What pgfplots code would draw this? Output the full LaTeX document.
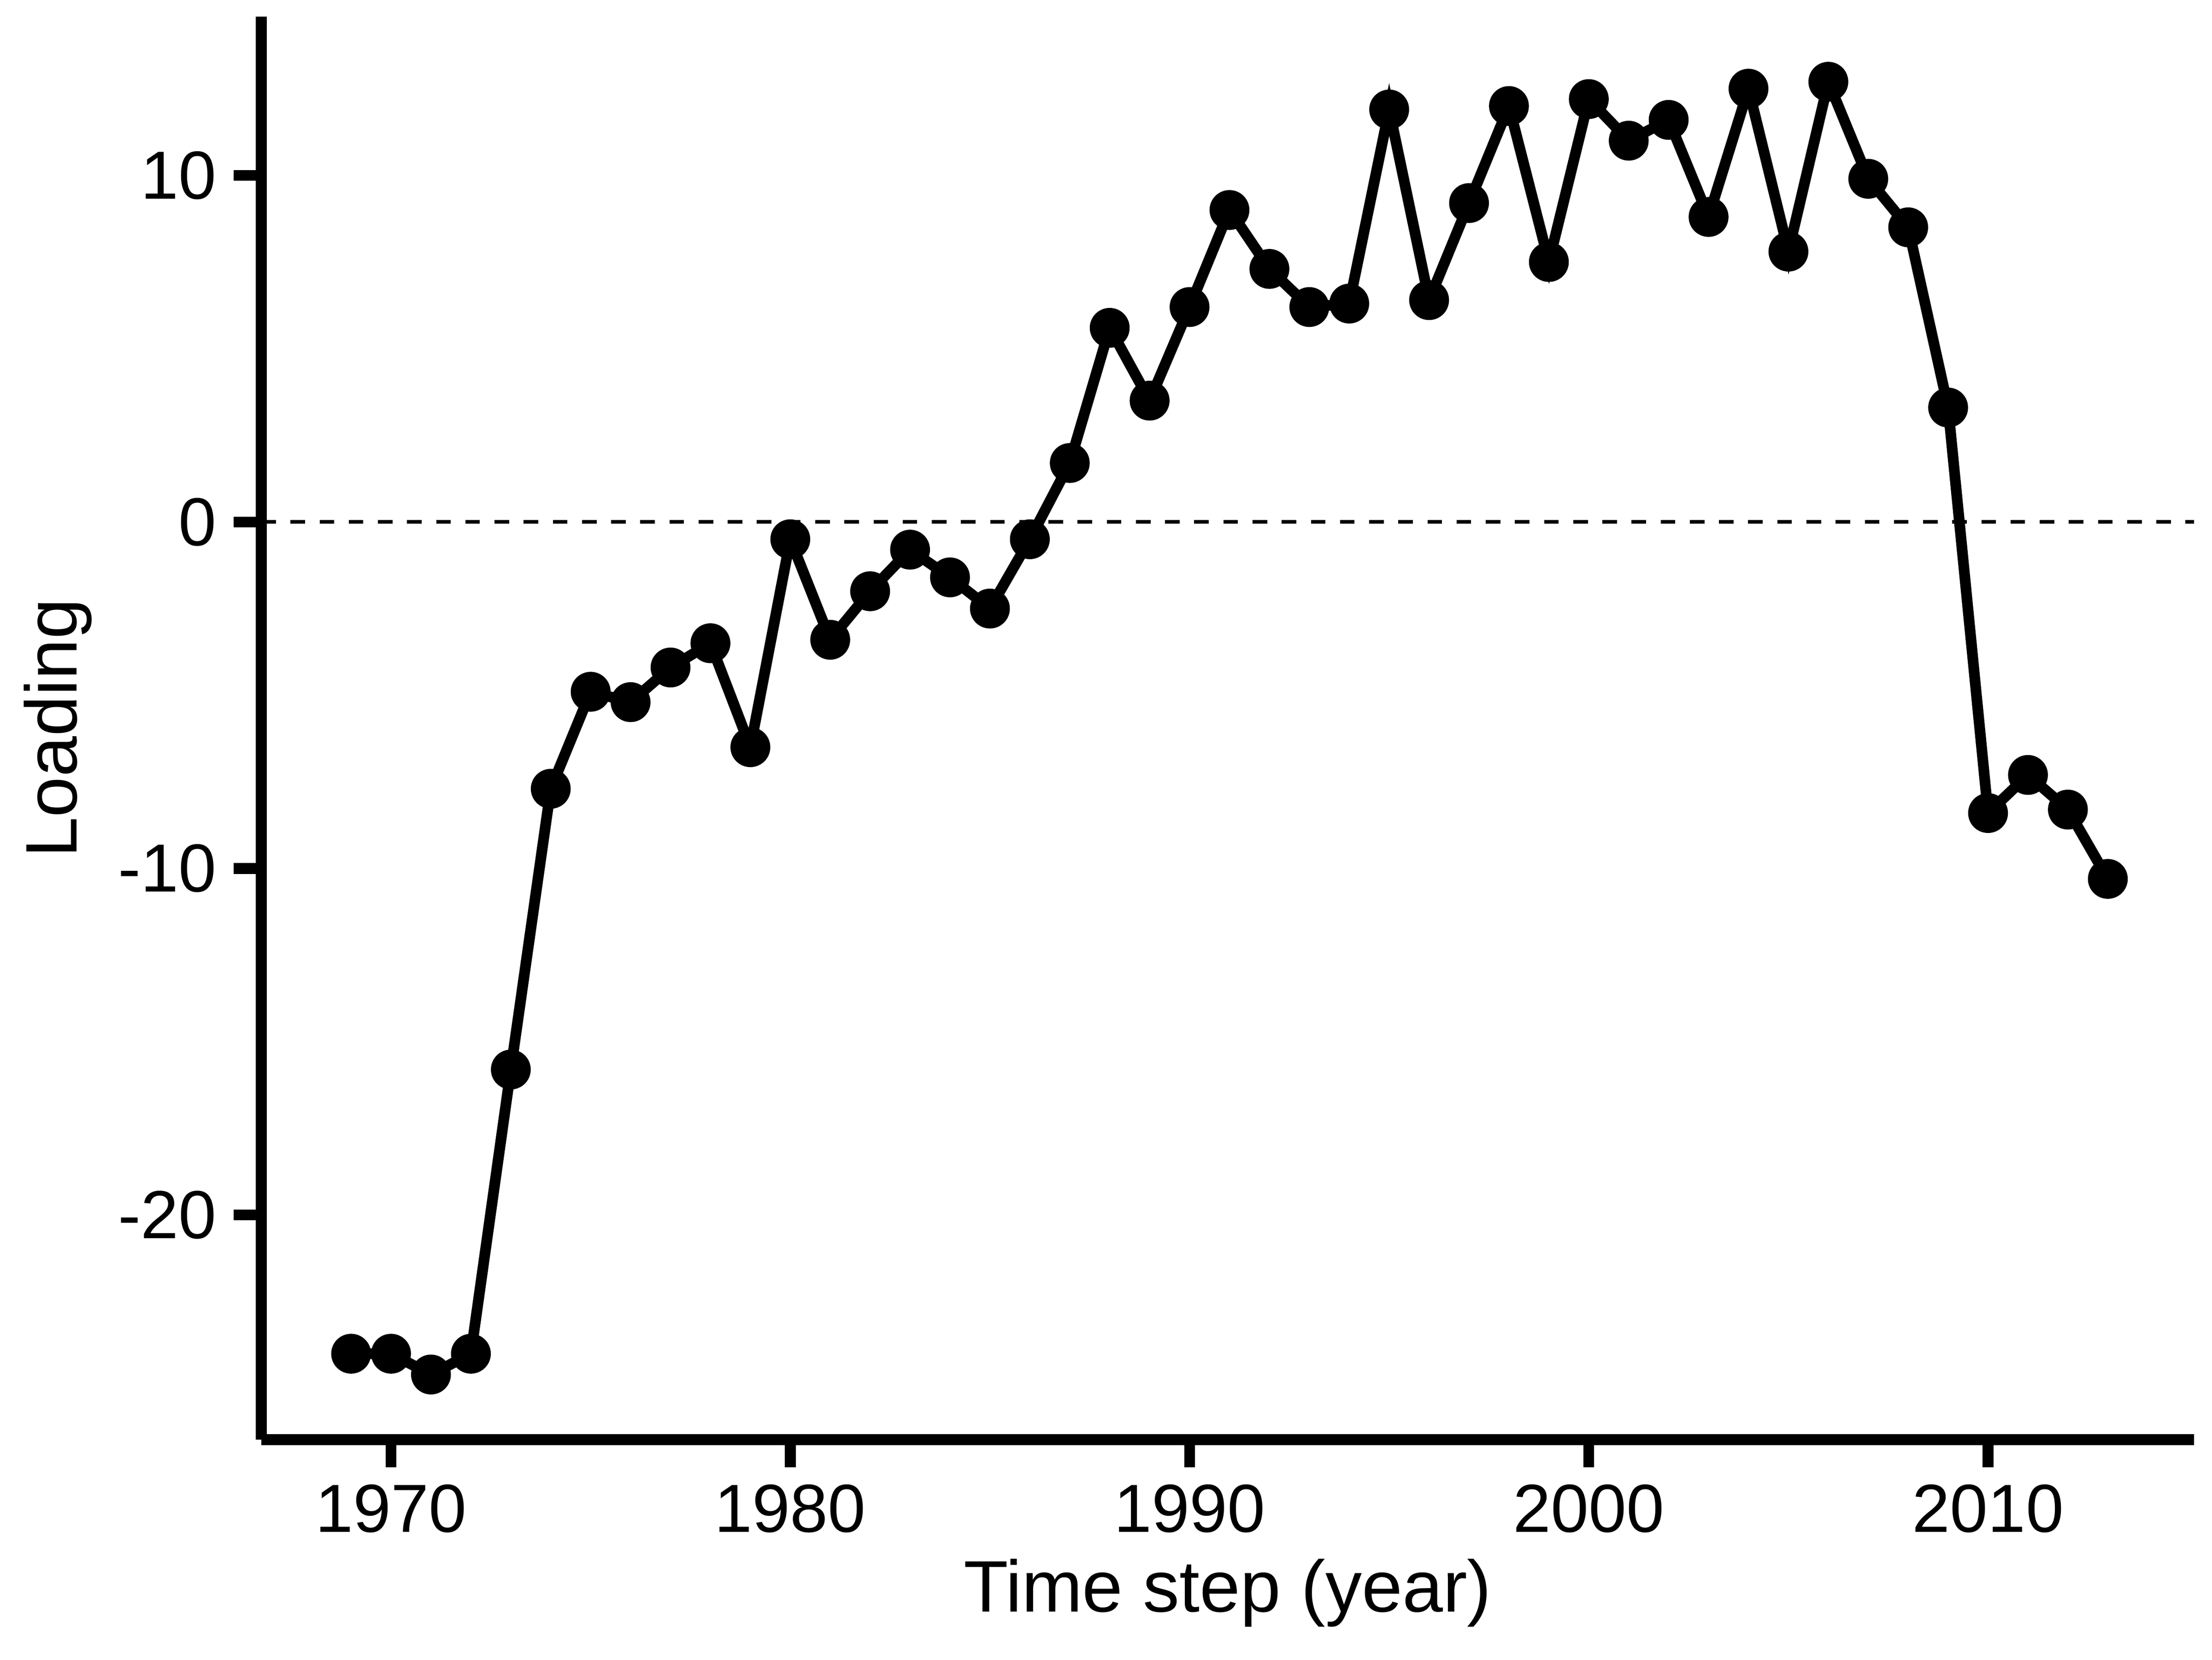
\documentclass[border=0pt]{standalone}
\usepackage{pgfplots}
\pgfplotsset{compat=1.18}
\usepackage{fontspec}
\setmainfont{Liberation Sans}
\begin{document}
\begin{tikzpicture}
\path[use as bounding box] (-1.89,-1.59) rectangle (14.11,10.41);
\begin{axis}[at={(0,0)},anchor=south west,scale only axis,width=13.98cm,height=10.29cm,
 xmin=1966.75,xmax=2015.16,ymin=-26.48,ymax=14.58,
 axis x line=bottom, axis y line=left, axis line style={line width=2.2pt,-},
 tick align=outside, major tick length=0.2cm, tick style={line width=2.2pt,black},
 xtick={1970,1980,1990,2000,2010}, ytick={-20,-10,0,10},
 /pgf/number format/assume math mode=true,
 /pgf/number format/1000 sep={},
 ticklabel style={font=\fontsize{14}{16}\selectfont},
 label style={font=\fontsize{15}{18}\selectfont},
 xlabel={Time step (year)}, ylabel={Loading},
 xlabel style={yshift=0.05cm}, ylabel style={yshift=-0.05cm},
 clip=false]
\addplot[black,dashed,line width=0.8pt,domain=1966.75:2015.16,samples=2] coordinates {(1966.75,0) (2015.16,0)};
\addplot[black,line width=2.2pt,mark=*,mark size=3pt] coordinates {
(1969,-24.0)(1970,-24.0)(1971,-24.6)(1972,-24.0)(1973,-15.8)(1974,-7.7)(1975,-4.9)(1976,-5.2)(1977,-4.2)(1978,-3.5)(1979,-6.5)(1980,-0.5)(1981,-3.4)(1982,-2.0)(1983,-0.8)(1984,-1.6)(1985,-2.5)(1986,-0.5)(1987,1.7)(1988,5.6)(1989,3.5)(1990,6.2)(1991,9.0)(1992,7.3)(1993,6.2)(1994,6.3)(1995,11.9)(1996,6.4)(1997,9.2)(1998,12.0)(1999,7.5)(2000,12.2)(2001,11.0)(2002,11.6)(2003,8.8)(2004,12.5)(2005,7.8)(2006,12.7)(2007,9.9)(2008,8.5)(2009,3.3)(2010,-8.4)(2011,-7.3)(2012,-8.3)(2013,-10.3)};
\end{axis}
\end{tikzpicture}
\end{document}
